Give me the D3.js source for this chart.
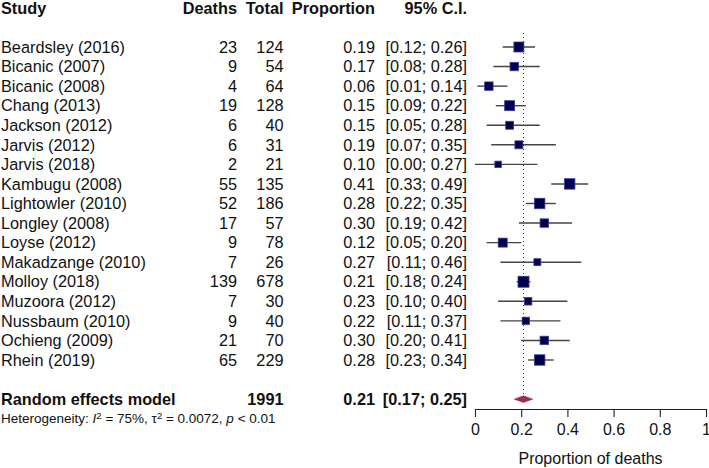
<!DOCTYPE html>
<html>
<head>
<meta charset="utf-8">
<script src="https://cdn.jsdelivr.net/npm/d3@7"></script>
<style>
  html, body { margin: 0; padding: 0; background: #fff; }
  svg { display: block; font-family: "Liberation Sans", Arial, Helvetica, sans-serif; }
</style>
</head>
<body>
<svg id="chart" width="709" height="468"></svg>
<script>
// ---- data ----
const studies = ["Beardsley (2016)", "Bicanic (2007)", "Bicanic (2008)", "Chang (2013)", "Jackson (2012)",
  "Jarvis (2012)", "Jarvis (2018)", "Kambugu (2008)", "Lightowler (2010)", "Longley (2008)", "Loyse (2012)",
  "Makadzange (2010)", "Molloy (2018)", "Muzoora (2012)", "Nussbaum (2010)", "Ochieng (2009)", "Rhein (2019)"];
const deaths = [23, 9, 4, 19, 6, 6, 2, 55, 52, 17, 9, 7, 139, 7, 9, 21, 65];
const totals = [124, 54, 64, 128, 40, 31, 21, 135, 186, 57, 78, 26, 678, 30, 40, 70, 229];
const proportions = [0.19, 0.17, 0.06, 0.15, 0.15, 0.19, 0.10, 0.41, 0.28, 0.30, 0.12, 0.27, 0.21, 0.23, 0.22, 0.30, 0.28];
const lower = [0.12, 0.08, 0.01, 0.09, 0.05, 0.07, 0.00, 0.33, 0.22, 0.19, 0.05, 0.11, 0.18, 0.10, 0.11, 0.20, 0.23];
const upper = [0.26, 0.28, 0.14, 0.22, 0.28, 0.35, 0.27, 0.49, 0.35, 0.42, 0.20, 0.46, 0.24, 0.40, 0.37, 0.41, 0.34];
// estimated random-effects weights (%)
const weights = [7.4, 5.3, 5.3, 7.4, 4.7, 4.7, 3.1, 8.1, 8.1, 5.3, 6.0, 3.6, 9.0, 4.1, 4.1, 5.3, 8.1];
const pooled = { label: "Random effects model", total: 1991, est: 0.21, lo: 0.17, hi: 0.25 };
const axisTicks = [0, 0.2, 0.4, 0.6, 0.8, 1];
const tickLabels = ["0", "0.2", "0.4", "0.6", "0.8", "1"];
const headers = ["Study", "Deaths", "Total", "Proportion", "95% C.I."];
const axisTitle = "Proportion of deaths";

// ---- layout ----
const svg = d3.select("#chart");
const fs = 16.3;
const x = d3.scaleLinear().domain([0, 1]).range([475, 706]);
const y = d3.scaleLinear().domain([0, 16]).range([47, 360]);
const size = d3.scaleSqrt().domain([0, d3.max(weights)]).range([0, 11]);
const cols = { study: 1, deaths: 237, total: 283.5, prop: 375, ci: 467 };
const fmt = d3.format(".2f");

// headers
const hy = y(-2);
const hdr = svg.append("g").attr("font-weight", "bold").attr("font-size", fs).attr("fill", "#111");
hdr.append("text").attr("x", cols.study).attr("y", hy).attr("dy", "0.35em").text(headers[0]);
hdr.append("text").attr("x", cols.deaths).attr("y", hy).attr("dy", "0.35em").attr("text-anchor", "end").text(headers[1]);
hdr.append("text").attr("x", cols.total).attr("y", hy).attr("dy", "0.35em").attr("text-anchor", "end").text(headers[2]);
hdr.append("text").attr("x", cols.prop).attr("y", hy).attr("dy", "0.35em").attr("text-anchor", "end").text(headers[3]);
hdr.append("text").attr("x", cols.ci).attr("y", hy).attr("dy", "0.35em").attr("text-anchor", "end").text(headers[4]);

// study rows
const rows = svg.append("g").attr("font-size", fs).attr("fill", "#111");
studies.forEach((s, i) => {
  const yy = y(i);
  rows.append("text").attr("x", cols.study).attr("y", yy).attr("dy", "0.35em").text(s);
  rows.append("text").attr("x", cols.deaths).attr("y", yy).attr("dy", "0.35em").attr("text-anchor", "end").text(deaths[i]);
  rows.append("text").attr("x", cols.total).attr("y", yy).attr("dy", "0.35em").attr("text-anchor", "end").text(totals[i]);
  rows.append("text").attr("x", cols.prop).attr("y", yy).attr("dy", "0.35em").attr("text-anchor", "end").text(fmt(proportions[i]));
  rows.append("text").attr("x", cols.ci).attr("y", yy).attr("dy", "0.35em").attr("text-anchor", "end")
    .text("[" + fmt(lower[i]) + "; " + fmt(upper[i]) + "]");
});

// pooled row
const py = y(18);
const pr = svg.append("g").attr("font-size", fs).attr("font-weight", "bold").attr("fill", "#111");
pr.append("text").attr("x", cols.study).attr("y", py).attr("dy", "0.35em").text(pooled.label);
pr.append("text").attr("x", cols.total).attr("y", py).attr("dy", "0.35em").attr("text-anchor", "end").text(pooled.total);
pr.append("text").attr("x", cols.prop).attr("y", py).attr("dy", "0.35em").attr("text-anchor", "end").text(fmt(pooled.est));
pr.append("text").attr("x", cols.ci).attr("y", py).attr("dy", "0.35em").attr("text-anchor", "end")
  .text("[" + fmt(pooled.lo) + "; " + fmt(pooled.hi) + "]");

// heterogeneity
const het = svg.append("text").attr("x", cols.study).attr("y", y(19)).attr("dy", "0.35em")
  .attr("font-size", 13.5).attr("fill", "#111");
het.append("tspan").text("Heterogeneity: ");
het.append("tspan").attr("font-style", "italic").text("I");
het.append("tspan").attr("font-size", 9.5).attr("dy", "-0.45em").text("2");
het.append("tspan").attr("dy", "0.3em").text(" = 75%, \u03C4");
het.append("tspan").attr("font-size", 9.5).attr("dy", "-0.45em").text("2");
het.append("tspan").attr("dy", "0.3em").text(" = 0.0072, ");
het.append("tspan").attr("font-style", "italic").text("p");
het.append("tspan").text(" < 0.01");

// reference dotted line at pooled estimate
svg.append("line")
  .attr("x1", x(pooled.est)).attr("x2", x(pooled.est))
  .attr("y1", 33).attr("y2", py - 3)
  .attr("stroke", "#333").attr("stroke-width", 1).attr("stroke-dasharray", "1,3");

// CI lines
svg.append("g").selectAll("line").data(studies).join("line")
  .attr("x1", (d, i) => x(lower[i])).attr("x2", (d, i) => x(upper[i]))
  .attr("y1", (d, i) => y(i)).attr("y2", (d, i) => y(i))
  .attr("stroke", "#444").attr("stroke-width", 1.4);

// squares
svg.append("g").selectAll("rect").data(studies).join("rect")
  .attr("x", (d, i) => x(proportions[i]) - size(weights[i]) / 2)
  .attr("y", (d, i) => y(i) - size(weights[i]) / 2)
  .attr("width", (d, i) => size(weights[i]))
  .attr("height", (d, i) => size(weights[i]))
  .attr("fill", "#00004d").attr("stroke", "#3c3c9a").attr("stroke-width", 0.8);

// diamond
const dh = 3.3;
svg.append("path")
  .attr("d", `M${x(pooled.lo)},${py}L${x(pooled.est)},${py - dh}L${x(pooled.hi)},${py}L${x(pooled.est)},${py + dh}Z`)
  .attr("fill", "#a3285c").attr("stroke", "#a3285c").attr("stroke-width", 0.6);

// axis
const axisY = 409;
const ax = svg.append("g").attr("transform", `translate(0,${axisY})`)
  .call(d3.axisBottom(x).tickValues(axisTicks).tickFormat((d, i) => tickLabels[i]).tickSize(8).tickPadding(7).tickSizeOuter(0));
ax.select(".domain").attr("stroke", "#222").attr("stroke-width", 1.1);
ax.selectAll(".tick line").attr("stroke", "#222").attr("stroke-width", 1.1);
ax.selectAll(".tick text").attr("font-size", 16).attr("fill", "#111")
  .attr("font-family", "'Liberation Sans', Arial, sans-serif");

svg.append("text").attr("x", x(0.5)).attr("y", 458).attr("dy", "0.35em")
  .attr("text-anchor", "middle").attr("font-size", 16).attr("fill", "#111").text(axisTitle);
</script>
</body>
</html>
